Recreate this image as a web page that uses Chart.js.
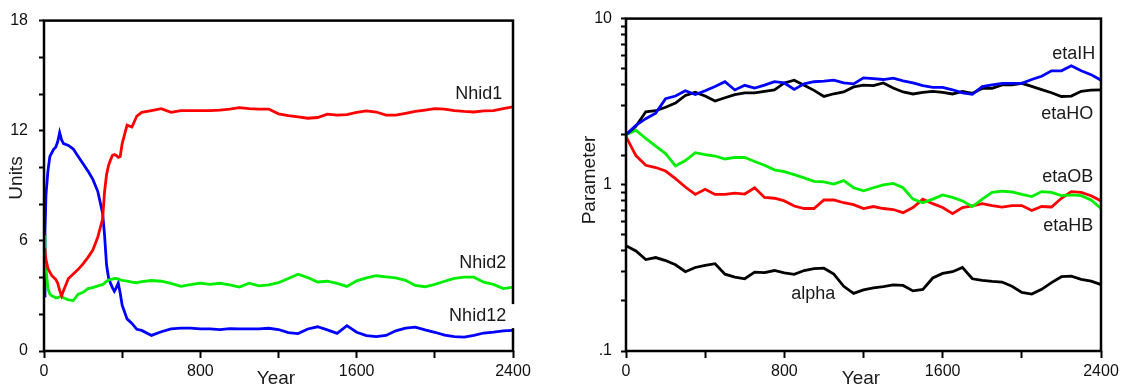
<!DOCTYPE html>
<html>
<head>
<meta charset="utf-8">
<script src="https://cdn.jsdelivr.net/npm/chart.js@4/dist/chart.umd.min.js"></script>
<style>
  html, body { margin: 0; padding: 0; background: #fff; }
  #wrap { position: relative; width: 1131px; height: 392px; }
  .panel { position: absolute; top: 0; height: 392px; }
  #left { left: 0; width: 565px; }
  #right { left: 565px; width: 566px; }
</style>
</head>
<body>
<div id="wrap">
  <div class="panel" id="left"><canvas id="unitsChart"></canvas></div>
  <div class="panel" id="right"><canvas id="paramChart"></canvas></div>
</div>
<script>
// ---- left panel: hidden units ----
const yearsL = [0, 5, 10, 20, 30, 40, 50, 60, 70, 80, 90, 100, 125, 150, 175, 200, 225, 250, 275, 300,
  310, 320, 330, 340, 350, 360, 370, 380, 390, 400, 425, 450, 475, 500,
  550, 600, 650, 700, 750, 800, 850, 900, 950, 1000, 1050, 1100, 1150, 1200, 1250, 1300,
  1350, 1400, 1450, 1500, 1550, 1600, 1650, 1700, 1750, 1800, 1850, 1900, 1950, 2000,
  2050, 2100, 2150, 2200, 2250, 2300, 2350, 2400];

const nhid1 = [5.6, 5.4, 5.0, 4.5, 4.3, 4.1, 4.0, 3.9, 3.7, 3.3, 3.0, 3.3, 3.95, 4.2, 4.45, 4.75, 5.1, 5.5, 6.2, 7.2,
  8.7, 9.6, 10.1, 10.4, 10.65, 10.7, 10.65, 10.55, 10.6, 11.3, 12.3, 12.2, 12.8, 13.0,
  13.1, 13.2, 13.0, 13.1, 13.1, 13.1, 13.1, 13.12, 13.18, 13.26, 13.2, 13.18, 13.18, 12.92, 12.82, 12.76,
  12.68, 12.72, 12.9, 12.85, 12.88, 13.0, 13.08, 13.02, 12.85, 12.85, 12.95, 13.05, 13.12, 13.2,
  13.18, 13.1, 13.05, 13.02, 13.08, 13.09, 13.2, 13.3];

const nhid2 = [6.3, 5.1, 4.5, 3.4, 3.1, 3.0, 2.95, 2.9, 2.9, 2.95, 3.0, 2.9, 2.78, 2.75, 3.1, 3.2, 3.4, 3.45, 3.55, 3.62,
  3.7, 3.8, 3.85, 3.9, 3.92, 3.95, 3.95, 3.92, 3.88, 3.85, 3.8, 3.75, 3.72, 3.78,
  3.84, 3.8, 3.68, 3.52, 3.62, 3.7, 3.63, 3.69, 3.6, 3.48, 3.69, 3.55, 3.6, 3.72, 3.95, 4.18,
  4.0, 3.76, 3.8, 3.68, 3.52, 3.82, 3.98, 4.1, 4.04, 3.98, 3.85, 3.57, 3.5, 3.63,
  3.8, 3.96, 4.03, 4.02, 3.75, 3.63, 3.4, 3.48];

const nhid12 = [3.0, 6.5, 8.5, 9.8, 10.6, 10.8, 11.0, 11.1, 11.4, 11.9, 11.5, 11.3, 11.2, 11.0, 10.6, 10.2, 9.8, 9.35, 8.7, 7.5,
  6.3, 4.7, 4.0, 3.7, 3.45, 3.25, 3.45, 3.7, 3.15, 2.5, 1.75, 1.5, 1.18, 1.12,
  0.85, 1.05, 1.2, 1.25, 1.25, 1.2, 1.2, 1.17, 1.22, 1.2, 1.2, 1.2, 1.24, 1.17, 1.0, 0.95,
  1.2, 1.32, 1.15, 0.96, 1.38, 1.02, 0.84, 0.78, 0.85, 1.1, 1.25, 1.3, 1.15, 1.02,
  0.86, 0.78, 0.76, 0.85, 0.98, 1.03, 1.1, 1.12];

const unitTicks = [0, 6, 12, 18];

// ---- right panel: parameters (log scale) ----
const yearsR = [0, 50, 100, 150, 200, 250, 300, 350, 400, 450, 500, 550, 600, 650, 700, 750, 800, 850, 900, 950,
  1000, 1050, 1100, 1150, 1200, 1250, 1300, 1350, 1400, 1450, 1500, 1550, 1600, 1650, 1700, 1750,
  1800, 1850, 1900, 1950, 2000, 2050, 2100, 2150, 2200, 2250, 2300, 2350, 2400];

const etaIH = [2.0, 2.28, 2.5, 2.7, 3.3, 3.42, 3.68, 3.49, 3.68, 3.9, 4.17, 3.72, 3.97, 3.82, 3.98, 4.18, 4.1, 3.75, 4.05, 4.17,
  4.2, 4.26, 4.1, 4.05, 4.4, 4.35, 4.3, 4.38, 4.22, 4.1, 3.95, 3.86, 3.86, 3.73, 3.57, 3.5,
  3.9, 3.99, 4.08, 4.08, 4.08, 4.3, 4.5, 4.85, 4.85, 5.2, 4.85, 4.6, 4.26];

const etaHO = [2.0, 2.25, 2.75, 2.79, 2.93, 3.1, 3.45, 3.6, 3.42, 3.19, 3.34, 3.49, 3.57, 3.57, 3.65, 3.72, 4.1, 4.26, 3.97, 3.7,
  3.4, 3.53, 3.62, 3.88, 3.98, 3.95, 4.1, 3.82, 3.62, 3.52, 3.6, 3.65, 3.6, 3.52, 3.65, 3.55,
  3.8, 3.81, 3.99, 3.99, 4.08, 3.91, 3.74, 3.58, 3.4, 3.42, 3.65, 3.71, 3.73];

const etaOB = [2.0, 2.13, 1.9, 1.71, 1.54, 1.3, 1.4, 1.56, 1.52, 1.49, 1.43, 1.46, 1.46, 1.38, 1.31, 1.23, 1.2, 1.15, 1.1, 1.05,
  1.04, 1.01, 1.06, 0.96, 0.92, 0.96, 1.0, 1.02, 0.96, 0.82, 0.78, 0.82, 0.87, 0.84, 0.8, 0.74,
  0.82, 0.9, 0.915, 0.905, 0.875, 0.85, 0.91, 0.9, 0.86, 0.87, 0.86, 0.81, 0.72];

const etaHB = [1.95, 1.5, 1.31, 1.27, 1.21, 1.09, 0.97, 0.875, 0.94, 0.875, 0.875, 0.89, 0.88, 0.96, 0.84, 0.83, 0.8, 0.745, 0.72, 0.72,
  0.81, 0.81, 0.78, 0.76, 0.72, 0.74, 0.72, 0.71, 0.68, 0.73, 0.82, 0.77, 0.73, 0.67, 0.73, 0.748,
  0.77, 0.75, 0.735, 0.75, 0.75, 0.7, 0.74, 0.735, 0.83, 0.91, 0.9, 0.86, 0.8];

const alpha = [0.43, 0.4, 0.355, 0.365, 0.35, 0.33, 0.3, 0.318, 0.328, 0.335, 0.29, 0.278, 0.272, 0.298, 0.296, 0.305, 0.295, 0.289, 0.305, 0.313,
  0.315, 0.29, 0.245, 0.222, 0.233, 0.24, 0.244, 0.25, 0.248, 0.23, 0.235, 0.275, 0.293, 0.3, 0.318, 0.272,
  0.266, 0.262, 0.26, 0.245, 0.225, 0.22, 0.235, 0.258, 0.28, 0.282, 0.27, 0.263, 0.251];

const paramTicks = [0.1, 1, 10];
const yearTicks = [0, 800, 1600, 2400];

const FONT = '"Liberation Sans", Arial, Helvetica, sans-serif';
Chart.defaults.font.family = FONT;
Chart.defaults.color = '#111';
const tickFont = { family: FONT, size: 16 };

const pts = (xs, ys) => xs.map((x, i) => ({ x: x, y: ys[i] }));
const line = (label, xs, ys, color) => ({
  label: label,
  data: pts(xs, ys),
  borderColor: color,
  borderWidth: 2.8,
  pointRadius: 0,
  tension: 0,
  fill: false
});

// frame around plot, curve labels and axis titles
const decorPlugin = {
  id: 'decor',
  afterDatasetsDraw(chart, args, opts) {
    const { ctx, chartArea: a } = chart;
    ctx.save();
    ctx.strokeStyle = '#000';
    ctx.lineWidth = 2.5;
    ctx.strokeRect(a.left, a.top, a.right - a.left, a.bottom - a.top);

    ctx.font = '18px ' + FONT;
    ctx.textBaseline = 'middle';
    (opts.labels || []).forEach(l => {
      const x = chart.scales.x.getPixelForValue(l.x);
      const y = chart.scales.y.getPixelForValue(l.y);
      ctx.textAlign = l.align || 'right';
      if (l.box) {
        const w = ctx.measureText(l.text).width;
        ctx.fillStyle = '#fff';
        ctx.fillRect(x - w - 3, y - 12, w + 13, 24);
      }
      ctx.fillStyle = '#1a1a1a';
      ctx.fillText(l.text, x, y);
    });

    ctx.font = '19px ' + FONT;
    ctx.fillStyle = '#1a1a1a';
    ctx.textAlign = 'center';
    const t = opts.titles;
    ctx.fillText('Year', t.xx, t.xy);
    ctx.translate(t.yx, t.yy);
    ctx.rotate(-Math.PI / 2);
    ctx.fillText(t.y, 0, 0);
    ctx.restore();
  }
};

const xAxis = (h) => ({
  type: 'linear',
  min: 0,
  max: 2400,
  border: { display: false },
  grid: { drawOnChartArea: false, drawTicks: true, tickLength: 7, tickColor: '#000', tickWidth: 2 },
  ticks: {
    stepSize: 400,
    autoSkip: false,
    maxRotation: 0,
    padding: 4,
    font: tickFont,
    callback: v => yearTicks.includes(v) ? String(v) : ''
  },
  afterFit: s => { s.height = h; }
});

new Chart(document.getElementById('unitsChart'), {
  type: 'line',
  data: {
    datasets: [
      line('Nhid1', yearsL, nhid1, '#ff0000'),
      line('Nhid2', yearsL, nhid2, '#00ee00'),
      line('Nhid12', yearsL, nhid12, '#0000ff')
    ]
  },
  options: {
    responsive: true,
    maintainAspectRatio: false,
    animation: false,
    layout: { autoPadding: false, padding: { top: 9, right: 52, bottom: 0, left: 0 } },
    plugins: {
      legend: { display: false },
      tooltip: { enabled: false },
      decor: {
        labels: [
          { text: 'Nhid1', x: 2345, y: 14.0 },
          { text: 'Nhid2', x: 2365, y: 4.79 },
          { text: 'Nhid12', x: 2365, y: 1.9, box: true }
        ],
        titles: { y: 'Units', yx: 17, yy: 178, xx: 276, xy: 379 }
      }
    },
    scales: {
      x: xAxis(41),
      y: {
        type: 'linear',
        min: 0,
        max: 18,
        border: { display: false },
        grid: { drawOnChartArea: false, drawTicks: true, tickLength: 5, tickColor: '#000', tickWidth: 2 },
        ticks: {
          stepSize: 2,
          autoSkip: false,
          padding: 11,
          font: tickFont,
          callback: v => unitTicks.includes(v) ? String(v) : ''
        },
        afterFit: s => { s.width = 44; }
      }
    }
  },
  plugins: [decorPlugin]
});

new Chart(document.getElementById('paramChart'), {
  type: 'line',
  data: {
    datasets: [
      line('etaIH', yearsR, etaIH, '#0000ff'),
      line('etaHO', yearsR, etaHO, '#000000'),
      line('etaOB', yearsR, etaOB, '#00ee00'),
      line('etaHB', yearsR, etaHB, '#ff0000'),
      line('alpha', yearsR, alpha, '#000000')
    ]
  },
  options: {
    responsive: true,
    maintainAspectRatio: false,
    animation: false,
    layout: { autoPadding: false, padding: { top: 9, right: 30, bottom: 0, left: 0 } },
    plugins: {
      legend: { display: false },
      tooltip: { enabled: false },
      decor: {
        labels: [
          { text: 'etaIH', x: 2371, y: 6.16 },
          { text: 'etaHO', x: 2361, y: 2.67 },
          { text: 'etaOB', x: 2361, y: 1.11 },
          { text: 'etaHB', x: 2361, y: 0.568 },
          { text: 'alpha', x: 946, y: 0.221, align: 'center' }
        ],
        titles: { y: 'Parameter', yx: 25, yy: 180, xx: 296, xy: 379 }
      }
    },
    scales: {
      x: xAxis(41),
      y: {
        type: 'logarithmic',
        min: 0.1,
        max: 10,
        border: { display: false },
        grid: { drawOnChartArea: false, drawTicks: true, tickLength: 5, tickColor: '#000', tickWidth: 2 },
        ticks: {
          autoSkip: false,
          padding: 9,
          font: tickFont,
          callback: v => {
            const hit = paramTicks.find(p => Math.abs(v - p) < p * 1e-6);
            if (hit === undefined) return '';
            return hit === 0.1 ? '.1' : String(hit);
          }
        },
        afterFit: s => { s.width = 61; }
      }
    }
  },
  plugins: [decorPlugin]
});
</script>
</body>
</html>
